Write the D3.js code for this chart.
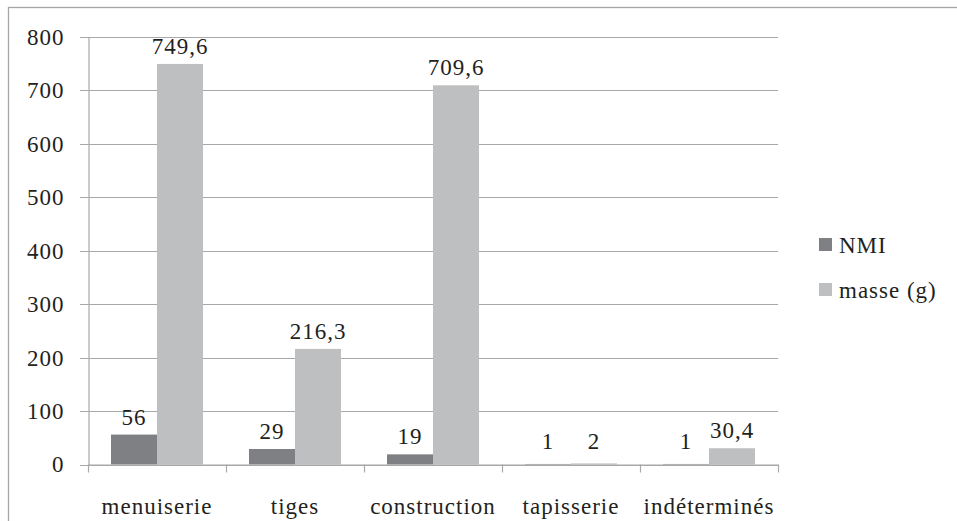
<!DOCTYPE html>
<html><head><meta charset="utf-8">
<script src="https://cdn.jsdelivr.net/npm/d3@7"></script>
</head>
<body style="margin:0">
<svg id="chart" width="957" height="521"></svg>
<script>
const categories = ["menuiserie","tiges","construction","tapisserie","indéterminés"];
const seriesNames = ["NMI","masse (g)"];
const nmiValues = [56,29,19,1,1];
const masseValues = [749.6,216.3,709.6,2,30.4];
const nmiLabels = ["56","29","19","1","1"];
const masseLabels = ["749,6","216,3","709,6","2","30,4"];
const yTicks = [0,100,200,300,400,500,600,700,800];

const colors = ["#7f8084","#bebfc1"];
const gridColor = "#a8a8a8";
const textColor = "#231f20";
const fontSize = 23;
const ff = '"Liberation Serif"';
const ls = 1;

const svg = d3.select("#chart");
svg.append("rect").attr("x",8.5).attr("y",7.5).attr("width",1000).attr("height",600)
  .attr("fill","none").attr("stroke","#a6a6a6").attr("stroke-width",1.3);

const pLeft = 88, pRight = 778, pTop = 37, pBottom = 464.5;
const x = d3.scaleBand().domain(categories).range([pLeft,pRight]).padding(0);
const y = d3.scaleLinear().domain([0,800]).range([pBottom,pTop]);

svg.append("g").selectAll("line").data(yTicks).join("line")
  .attr("x1",80).attr("x2",pRight).attr("y1",d=>Math.round(y(d))+0.5).attr("y2",d=>Math.round(y(d))+0.5)
  .attr("stroke",gridColor).attr("stroke-width",1.2);

const yAxis = svg.append("g").attr("transform",`translate(${pLeft+0.5},0)`)
  .call(d3.axisLeft(y).tickValues(yTicks).tickSize(0).tickPadding(24).tickFormat(d3.format("d")));
yAxis.attr("font-family",ff).attr("font-size",fontSize);
yAxis.select(".domain").attr("stroke",gridColor).attr("stroke-width",1.2);
yAxis.selectAll("text").attr("font-size",fontSize).attr("fill",textColor)
  .attr("font-family",ff).attr("letter-spacing",ls);

const bw = x.bandwidth()/3;
const series = [nmiValues, masseValues];
const labels = [nmiLabels, masseLabels];
series.forEach((vals,si)=>{
  svg.append("g").selectAll("rect").data(vals).join("rect")
    .attr("x",(d,i)=>x(categories[i]) + bw/2 + si*bw)
    .attr("width",bw)
    .attr("y",d=>y(d))
    .attr("height",d=>y(0)-y(d))
    .attr("fill",colors[si]);
  svg.append("g").selectAll("text").data(vals).join("text")
    .attr("x",(d,i)=>x(categories[i]) + bw/2 + si*bw + bw/2)
    .attr("y",d=>Math.min(y(d)-10, y(0)-16))
    .attr("text-anchor","middle")
    .attr("font-family",ff).attr("letter-spacing",ls)
    .attr("font-size",fontSize).attr("fill",textColor)
    .text((d,i)=>labels[si][i]);
});

const xAxis = svg.append("g").attr("transform",`translate(0,${pBottom})`);
xAxis.append("line").attr("x1",pLeft).attr("x2",pRight+0.5).attr("y1",0.5).attr("y2",0.5)
  .attr("stroke",gridColor).attr("stroke-width",1.2);
const bounds = categories.map(c=>x(c)).concat([pRight]);
xAxis.selectAll("line.tick").data(bounds).join("line").attr("class","tick")
  .attr("x1",d=>d+0.5).attr("x2",d=>d+0.5).attr("y1",0).attr("y2",8)
  .attr("stroke",gridColor).attr("stroke-width",1.2);
xAxis.selectAll("text").data(categories).join("text")
  .attr("x",d=>x(d)+x.bandwidth()/2).attr("y",49.5)
  .attr("text-anchor","middle").attr("font-family",ff).attr("letter-spacing",ls)
  .attr("font-size",fontSize).attr("fill",textColor)
  .text(d=>d);

const lg = svg.append("g").attr("transform","translate(819,238)");
seriesNames.forEach((n,i)=>{
  lg.append("rect").attr("x",0).attr("y",i*45).attr("width",13).attr("height",13).attr("fill",colors[i]);
  lg.append("text").attr("x",20).attr("y",i*45+14.5).attr("font-family",ff).attr("letter-spacing",ls)
    .attr("font-size",fontSize).attr("fill",textColor).text(n);
});
</script>
</body></html>
